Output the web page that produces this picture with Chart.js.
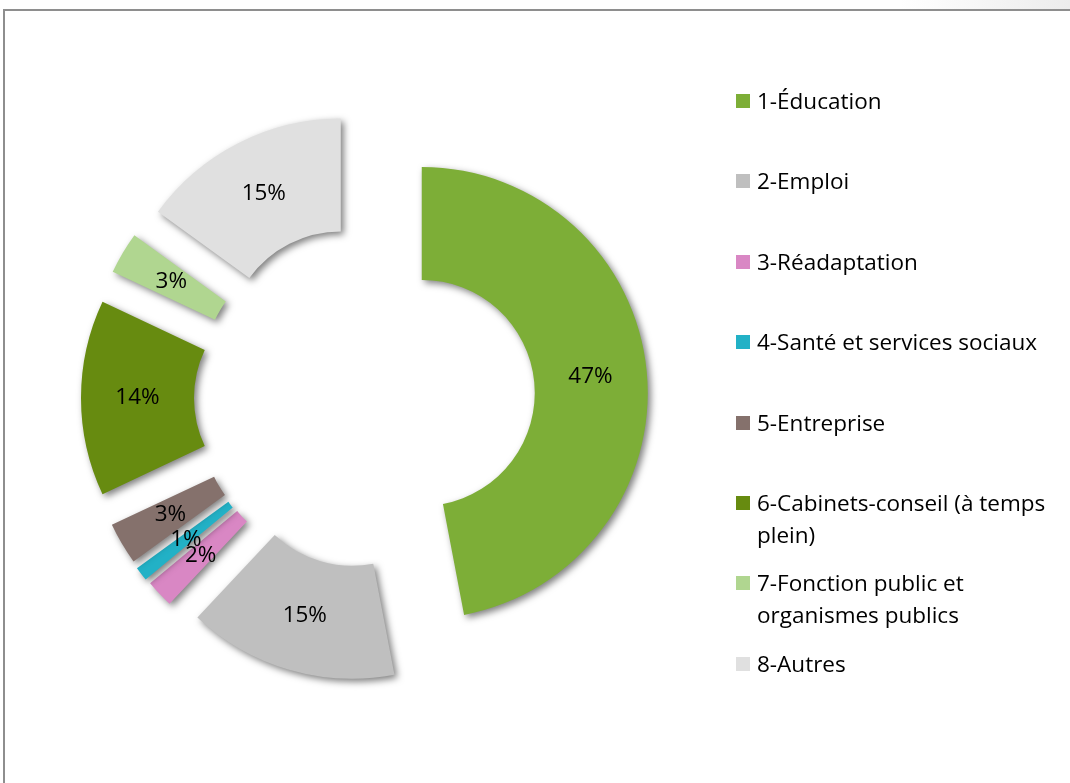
<!DOCTYPE html>
<html>
<head>
<meta charset="utf-8">
<script src="https://cdn.jsdelivr.net/npm/chart.js@4/dist/chart.umd.min.js"></script>
<style>
  html, body { margin: 0; padding: 0; background: #fff; }
  #page { position: relative; width: 1070px; height: 783px; overflow: hidden; background: #fff; }
  #frame { position: absolute; left: 3px; top: 9px; width: 1100px; height: 800px;
           border-top: 2px solid #8e8e8e; border-left: 2px solid #8e8e8e; box-sizing: border-box; }
  #corner { position: absolute; left: 900px; top: 0; width: 170px; height: 9px;
            background: linear-gradient(to right, rgba(236,236,236,0), #ececec); }
  #chartBox { position: absolute; left: 0; top: 0; width: 1070px; height: 783px; }
  #legend { position: absolute; left: 735px; top: 0; width: 330px;
            font-family: "Open Sans", sans-serif; font-size: 22.5px; color: #000; }
  .item { position: absolute; left: 0; width: 330px; line-height: 32px; }
  .sw { position: absolute; left: 1px; top: 9px; width: 14px; height: 14px; }
  .txt { margin-left: 22px; display: block; }
</style>
</head>
<body>
<div id="page">
  <div id="corner"></div>
  <div id="frame"></div>
  <div id="chartBox"><canvas id="c" width="1070" height="783"></canvas></div>
  <div id="legend"></div>
</div>
<script>
// ---- data ----
const categories = [
  "1-Éducation",
  "2-Emploi",
  "3-Réadaptation",
  "4-Santé et services sociaux",
  "5-Entreprise",
  "6-Cabinets-conseil (à temps plein)",
  "7-Fonction public et organismes publics",
  "8-Autres"
];
const shares = [47, 15, 2, 1, 3, 14, 3, 15];
const colors = ["#7DAE37", "#BFBFBF", "#D987C4", "#22B1C6", "#85716C", "#678B10", "#B0D690", "#E0E0E0"];

// ---- styling ----
const EXPLODE = [54, 57, 60, 61, 60, 61, 59, 60];
const LABEL_FONT = '22.5px "Open Sans", sans-serif';

const explodePlugin = {
  id: 'explode',
  beforeDatasetDraw(chart, args) {
    args.meta.data.forEach((el, i) => {
      if (el._exploded) return;
      el._exploded = true;
      const orig = el.draw.bind(el);
      el.draw = function (ctx, area) {
        const a = (this.startAngle + this.endAngle) / 2;
        const d = EXPLODE[i] || 0;
        ctx.save();
        ctx.translate(Math.cos(a) * d, Math.sin(a) * d);
        ctx.shadowColor = 'rgba(0,0,0,0.5)';
        ctx.shadowBlur = 7;
        ctx.shadowOffsetX = 3;
        ctx.shadowOffsetY = 3;
        orig(ctx, area);
        ctx.restore();
      };
    });
  },
  afterDatasetsDraw(chart) {
    const ctx = chart.ctx;
    const meta = chart.getDatasetMeta(0);
    ctx.save();
    ctx.font = LABEL_FONT;
    ctx.fillStyle = '#000';
    ctx.textAlign = 'center';
    ctx.textBaseline = 'middle';
    meta.data.forEach((el, i) => {
      const a = (el.startAngle + el.endAngle) / 2;
      const r = (el.innerRadius + el.outerRadius) / 2 + (EXPLODE[i] || 0);
      const x = el.x + Math.cos(a) * r;
      const y = el.y + Math.sin(a) * r;
      ctx.fillText(shares[i] + '%', x, y);
    });
    ctx.restore();
  }
};

new Chart(document.getElementById('c'), {
  type: 'doughnut',
  data: {
    labels: categories,
    datasets: [{
      data: shares,
      backgroundColor: colors,
      borderWidth: 0,
      offset: 0,
      hoverOffset: 0,
      radius: 226
    }]
  },
  options: {
    responsive: false,
    animation: false,
    events: [],
    cutout: '50%',
    layout: { padding: { left: 0, right: 334, top: 13, bottom: 0 } },
    plugins: { legend: { display: false }, tooltip: { enabled: false } }
  },
  plugins: [explodePlugin]
});

// HTML legend
const legend = document.getElementById('legend');
const firstY = 101, pitch = 80.4;
categories.forEach((name, i) => {
  const it = document.createElement('div');
  it.className = 'item';
  it.style.top = (firstY + i * pitch - 16) + 'px';
  const sw = document.createElement('span');
  sw.className = 'sw';
  sw.style.background = colors[i];
  const tx = document.createElement('span');
  tx.className = 'txt';
  tx.textContent = name;
  it.appendChild(sw);
  it.appendChild(tx);
  legend.appendChild(it);
});
</script>
</body>
</html>
